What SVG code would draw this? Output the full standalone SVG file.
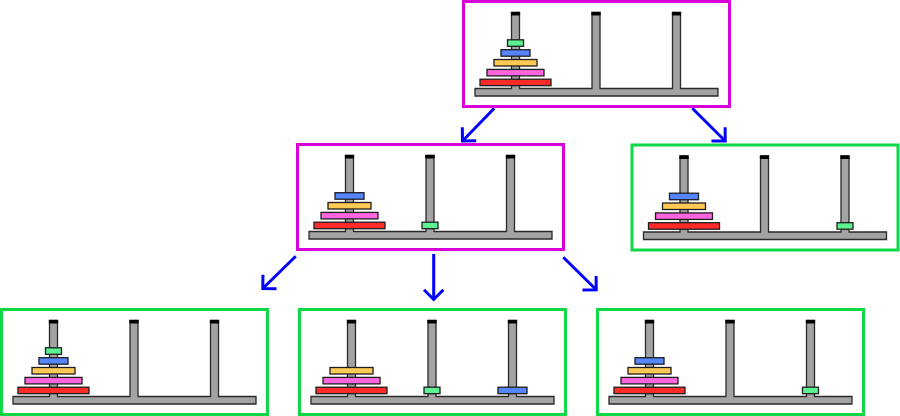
<svg xmlns="http://www.w3.org/2000/svg" xmlns:xlink="http://www.w3.org/1999/xlink" width="900" height="416" viewBox="0 0 900 416">
<style>
.frame{fill:#ffffff;stroke-width:3}
.active{stroke:#d800d8}
.done{stroke:#0ed846}
.board{fill:#a3a3a3;stroke:#2a2a2a;stroke-width:1.3}
.cap{fill:#000000}
.disk{stroke:#1e1e1e;stroke-width:1.3}
.d1{fill:#5cf290}
.d2{fill:#5585ff}
.d3{fill:#ffc955}
.d4{fill:#ff66de}
.d5{fill:#ff2a2a}
.arrow{stroke:#0000ff;stroke-width:3;fill:none}
</style>
<defs>
<marker id="head" markerUnits="userSpaceOnUse" viewBox="-14 -14 20 28" markerWidth="20" markerHeight="28" refX="0" refY="0" orient="auto">
<path d="M -9.7 -9.7 L 0 0 L -9.7 9.7" fill="none" stroke="#0000ff" stroke-width="3"/>
</marker>
<g id="board">
<path class="board" d="M 11.5 87 H 48 V 11 H 56 V 87 H 128.5 V 11 H 136.5 V 87 H 209 V 11 H 217 V 87 H 254.5 V 94.5 H 11.5 Z"/>
<rect class="cap" x="47.4" y="10.4" width="9.2" height="3.6"/>
<rect class="cap" x="127.9" y="10.4" width="9.2" height="3.6"/>
<rect class="cap" x="208.4" y="10.4" width="9.2" height="3.6"/>
</g>
<rect id="g1" class="disk d1" x="-8" y="0" width="16" height="6.5"/>
<rect id="g2" class="disk d2" x="-14.5" y="0" width="29" height="6.5"/>
<rect id="g3" class="disk d3" x="-21.5" y="0" width="43" height="6.5"/>
<rect id="g4" class="disk d4" x="-28.5" y="0" width="57" height="6.5"/>
<rect id="g5" class="disk d5" x="-35.5" y="0" width="71" height="6.5"/>
</defs>

<g id="connectors">
<line class="arrow" x1="494.3" y1="108.3" x2="462.5" y2="141" marker-end="url(#head)"/>
<line class="arrow" x1="692.3" y1="108.3" x2="725.2" y2="141" marker-end="url(#head)"/>
<line class="arrow" x1="295.7" y1="256.3" x2="262.8" y2="288.5" marker-end="url(#head)"/>
<line class="arrow" x1="433.7" y1="254" x2="433.7" y2="299.5" marker-end="url(#head)"/>
<line class="arrow" x1="563.3" y1="257.3" x2="596.2" y2="289.8" marker-end="url(#head)"/>
</g>

<g id="node-top" transform="translate(463.5,1.5)">
<rect class="frame active" x="0" y="0" width="266" height="105"/>
<use xlink:href="#board" href="#board"/>
<use href="#g5" xlink:href="#g5" x="52" y="77.7"/>
<use href="#g4" xlink:href="#g4" x="52" y="67.9"/>
<use href="#g3" xlink:href="#g3" x="52" y="58"/>
<use href="#g2" xlink:href="#g2" x="52" y="48.2"/>
<use href="#g1" xlink:href="#g1" x="52" y="38.3"/>
</g>

<g id="node-mid-left" transform="translate(297.5,144.5)">
<rect class="frame active" x="0" y="0" width="266" height="105"/>
<use xlink:href="#board" href="#board"/>
<use href="#g5" xlink:href="#g5" x="52" y="77.7"/>
<use href="#g4" xlink:href="#g4" x="52" y="67.9"/>
<use href="#g3" xlink:href="#g3" x="52" y="58"/>
<use href="#g2" xlink:href="#g2" x="52" y="48.2"/>
<use href="#g1" xlink:href="#g1" x="132.5" y="77.7"/>
</g>

<g id="node-mid-right" transform="translate(632,145)">
<rect class="frame done" x="0" y="0" width="266" height="105"/>
<use xlink:href="#board" href="#board"/>
<use href="#g5" xlink:href="#g5" x="52" y="77.7"/>
<use href="#g4" xlink:href="#g4" x="52" y="67.9"/>
<use href="#g3" xlink:href="#g3" x="52" y="58"/>
<use href="#g2" xlink:href="#g2" x="52" y="48.2"/>
<use href="#g1" xlink:href="#g1" x="213" y="77.7"/>
</g>

<g id="node-bottom-1" transform="translate(1.5,309.5)">
<rect class="frame done" x="0" y="0" width="266" height="105"/>
<use xlink:href="#board" href="#board"/>
<use href="#g5" xlink:href="#g5" x="52" y="77.7"/>
<use href="#g4" xlink:href="#g4" x="52" y="67.9"/>
<use href="#g3" xlink:href="#g3" x="52" y="58"/>
<use href="#g2" xlink:href="#g2" x="52" y="48.2"/>
<use href="#g1" xlink:href="#g1" x="52" y="38.3"/>
</g>

<g id="node-bottom-2" transform="translate(299.5,309.5)">
<rect class="frame done" x="0" y="0" width="266" height="105"/>
<use xlink:href="#board" href="#board"/>
<use href="#g5" xlink:href="#g5" x="52" y="77.7"/>
<use href="#g4" xlink:href="#g4" x="52" y="67.9"/>
<use href="#g3" xlink:href="#g3" x="52" y="58"/>
<use href="#g1" xlink:href="#g1" x="132.5" y="77.7"/>
<use href="#g2" xlink:href="#g2" x="213" y="77.7"/>
</g>

<g id="node-bottom-3" transform="translate(597.5,309.5)">
<rect class="frame done" x="0" y="0" width="266" height="105"/>
<use xlink:href="#board" href="#board"/>
<use href="#g5" xlink:href="#g5" x="52" y="77.7"/>
<use href="#g4" xlink:href="#g4" x="52" y="67.9"/>
<use href="#g3" xlink:href="#g3" x="52" y="58"/>
<use href="#g2" xlink:href="#g2" x="52" y="48.2"/>
<use href="#g1" xlink:href="#g1" x="213" y="77.7"/>
</g>
</svg>
